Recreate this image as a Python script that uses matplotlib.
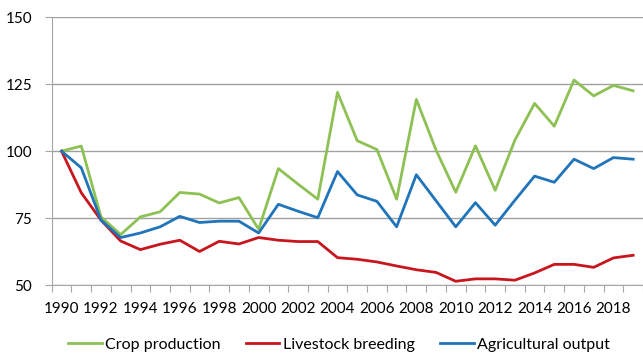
# Agricultural production indices, 1990 = 100
import matplotlib.pyplot as plt
import numpy as np

years = list(range(1990, 2020))
crop = [100, 101.9, 75.5, 68.9, 75.5, 77.4, 84.6, 84.0, 80.7, 82.7,
        70.9, 93.5, 87.7, 82.1, 121.9, 103.9, 100.6, 82.1, 119.3, 100.4,
        84.7, 102.0, 85.4, 104.1, 117.8, 109.3, 126.5, 120.6, 124.5, 122.5]
livestock = [100, 84.5, 74.3, 66.5, 63.3, 65.3, 66.8, 62.6, 66.4, 65.4,
             67.8, 66.8, 66.3, 66.3, 60.3, 59.7, 58.7, 57.2, 55.8, 54.8,
             51.5, 52.4, 52.4, 51.9, 54.6, 57.8, 57.8, 56.7, 60.2, 61.2]
agri = [100, 93.8, 74.3, 67.8, 69.5, 71.8, 75.7, 73.4, 73.9, 73.9,
        69.5, 80.2, 77.6, 75.2, 92.4, 83.7, 81.3, 71.8, 91.2, 81.5,
        71.8, 80.8, 72.4, 81.7, 90.7, 88.4, 97.0, 93.5, 97.6, 97.0]

plt.rcParams['font.family'] = ['Lato', 'DejaVu Sans']

fig = plt.figure(figsize=(6.43, 3.53), dpi=100)
ax = fig.add_axes([0.0804, 0.1918, 0.9196, 0.76])

x = np.arange(len(years))
ax.plot(x, crop, color='#8DC153', lw=2.0, label='Crop production')
ax.plot(x, livestock, color='#C8161E', lw=2.0, label='Livestock breeding')
ax.plot(x, agri, color='#1F74BA', lw=2.0, label='Agricultural output')

ax.set_ylim(50, 150)
ax.set_yticks([50, 75, 100, 125, 150])
ax.set_xlim(-0.5, 29.2)

# tick marks at category boundaries, labels every second year
ax.set_xticks(np.arange(-0.5, 30, 1))
ax.set_xticklabels([])
ax.set_xticks(x[::2], minor=True)
ax.set_xticklabels([str(y) for y in years[::2]], minor=True)
ax.tick_params(axis='x', which='major', length=5, color='#A6A6A6')
ax.tick_params(axis='x', which='minor', length=0, pad=12, labelsize=11)
ax.tick_params(axis='y', length=5, color='#A6A6A6', pad=9, labelsize=11)

ax.grid(axis='y', color='#A0A0A0', lw=1)
ax.set_axisbelow(True)
for s in ['top', 'right']:
    ax.spines[s].set_visible(False)
for s in ['left', 'bottom']:
    ax.spines[s].set_color('#A6A6A6')

fig.legend(loc='center', bbox_to_anchor=(0.527, 0.023), ncol=3, frameon=False,
           fontsize=11.5, handlelength=2.1, handletextpad=0.2, columnspacing=1.6)

plt.savefig('out.png')
